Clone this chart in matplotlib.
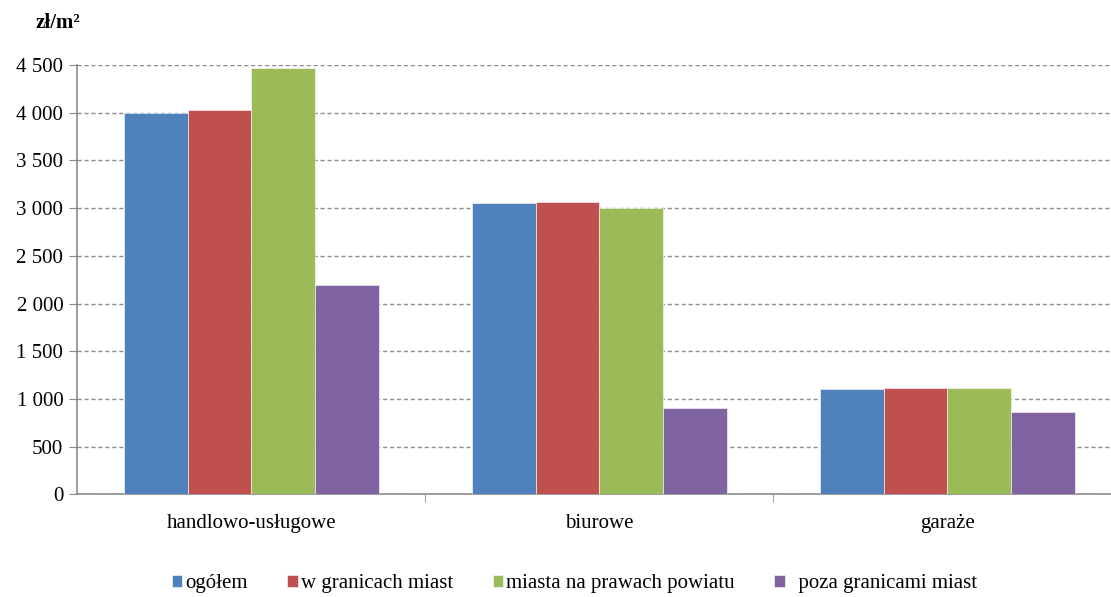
import numpy as np
import matplotlib.pyplot as plt
from matplotlib.ticker import FuncFormatter, FixedLocator

plt.rcParams['font.family'] = ['Liberation Serif', 'DejaVu Serif']
plt.rcParams['font.size'] = 15

# Data
categories = ['handlowo-usługowe', 'biurowe', 'garaże']
series = ['ogółem', 'w granicach miast', 'miasta na prawach powiatu', 'poza granicami miast']
ogolem = [4000, 3050, 1105]
w_granicach = [4030, 3060, 1115]
miasta_powiat = [4470, 3000, 1115]
poza_granicami = [2190, 910, 860]
colors = ['#4f81bd', '#c0504d', '#9bbb59', '#8064a2']

values = [ogolem, w_granicach, miasta_powiat, poza_granicami]

fig = plt.figure(figsize=(11.11, 5.97), dpi=100)
# right part of the plot area runs slightly past the picture edge
ax = fig.add_axes([0.0695, 0.172, 0.94, 0.719])

x = np.arange(len(categories))
width = 0.183
for i, (name, vals) in enumerate(zip(series, values)):
    ax.bar(x + (i - 1.5) * width, vals, width, color=colors[i], label=name,
           edgecolor='white', linewidth=0.4, zorder=3)

ax.set_xlim(-0.5, 2.5)
ax.set_ylim(0, 4500)
ax.set_yticks(np.arange(0, 4501, 500))
ax.yaxis.set_major_formatter(FuncFormatter(lambda v, p: f'{int(v):,}'.replace(',', ' ')))
ax.grid(axis='y', color='#8c8c8c', linestyle=(0, (3, 2)), linewidth=1, zorder=0)

# category labels between separators
ax.set_xticks(x)
ax.set_xticklabels(categories)
ax.tick_params(axis='x', length=0, pad=14)
ax.xaxis.set_minor_locator(FixedLocator([0.5, 1.5]))
ax.tick_params(axis='x', which='minor', length=6, color='#8c8c8c')
ax.tick_params(axis='y', length=6, color='#8c8c8c', pad=4)

for s in ['top', 'right']:
    ax.spines[s].set_visible(False)
ax.spines['left'].set_color('#8c8c8c')
ax.spines['bottom'].set_color('#8c8c8c')
ax.spines['left'].set_linewidth(1.2)
ax.spines['bottom'].set_linewidth(1.2)

fig.text(0.032, 0.962, 'zł/m²', fontweight='bold', fontsize=15, va='center')

handles, labels = ax.get_legend_handles_labels()
labels[-1] = '  ' + labels[-1]
fig.legend(handles, labels, loc='center', bbox_to_anchor=(0.517, 0.022), ncol=4, frameon=False,
           handlelength=0.5, handleheight=0.5, handletextpad=0.15, columnspacing=1.9,
           fontsize=15)

fig.savefig('out.png', dpi=100)
